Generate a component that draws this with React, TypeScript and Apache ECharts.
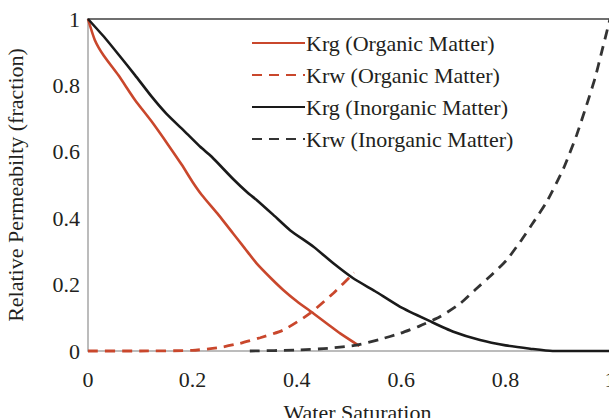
import React, { useEffect, useRef } from "react";
import * as echarts from "echarts";

const xTicks = [0, 0.2, 0.4, 0.6, 0.8, 1];
const yTicks = [0, 0.2, 0.4, 0.6, 0.8, 1];

const seriesNames = [
  "Krg (Organic Matter)",
  "Krw (Organic Matter)",
  "Krg (Inorganic Matter)",
  "Krw (Inorganic Matter)",
];

const krgOrganic: [number, number][] = [
  [0, 1], [0.013, 0.937], [0.03, 0.89], [0.058, 0.831], [0.09, 0.756],
  [0.122, 0.691], [0.154, 0.62], [0.18, 0.56], [0.2, 0.51], [0.218, 0.47],
  [0.25, 0.41], [0.278, 0.354], [0.3, 0.31], [0.323, 0.264], [0.35, 0.22],
  [0.374, 0.184], [0.4, 0.15], [0.432, 0.113], [0.46, 0.08], [0.483, 0.053],
  [0.52, 0.015],
];

const krwOrganic: [number, number][] = [
  [0, 0], [0.1, 0], [0.2, 0.002], [0.25, 0.01], [0.291, 0.023], [0.33, 0.04],
  [0.374, 0.063], [0.425, 0.113], [0.47, 0.174], [0.51, 0.236],
];

const krgInorganic: [number, number][] = [
  [0, 1], [0.033, 0.942], [0.06, 0.89], [0.09, 0.831], [0.122, 0.766],
  [0.15, 0.715], [0.186, 0.66], [0.215, 0.615], [0.237, 0.585], [0.278, 0.518],
  [0.307, 0.475], [0.323, 0.455], [0.355, 0.41], [0.387, 0.364], [0.432, 0.314],
  [0.47, 0.264], [0.508, 0.219], [0.55, 0.18], [0.598, 0.133], [0.655, 0.09],
  [0.7, 0.058], [0.751, 0.033], [0.8, 0.017], [0.847, 0.007], [0.89, 0], [1, 0],
];

const krwInorganic: [number, number][] = [
  [0.31, 0], [0.4, 0.003], [0.46, 0.008], [0.515, 0.018], [0.559, 0.035],
  [0.598, 0.053], [0.635, 0.075], [0.674, 0.103], [0.713, 0.143], [0.745, 0.189],
  [0.773, 0.229], [0.802, 0.274], [0.828, 0.329], [0.85, 0.38], [0.879, 0.45],
  [0.911, 0.55], [0.936, 0.65], [0.955, 0.74], [0.971, 0.82], [0.984, 0.9],
  [1, 1],
];

const RED = "#c9472c";
const BLACK = "#1a1a1a";
const DARK = "#333333";
const FONT = "Liberation Serif";
const TEXT = "#231f20";
const FS = 22;

const txt = (extra: object = {}) => ({
  fontFamily: FONT,
  fontSize: FS,
  color: TEXT,
  ...extra,
});

export default function App() {
  const ref = useRef<HTMLDivElement>(null);
  useEffect(() => {
    if (!ref.current) return;
    const chart = echarts.init(ref.current, undefined, { renderer: "svg" });
    const mk = (name: string, data: [number, number][], color: string, dashed: boolean) => ({
      name,
      type: "line",
      data,
      smooth: 0.2,
      symbol: "none",
      clip: false,
      lineStyle: { color, width: dashed ? 2.8 : 2.6, type: dashed ? [10, 7] : "solid" },
      itemStyle: { color },
    });
    chart.setOption({
      animation: false,
      grid: { left: 88, top: 19, width: 522, height: 332, outerBoundsMode: "none", containLabel: false },
      legend: {
        orient: "vertical",
        left: 246,
        top: 27,
        itemWidth: 53,
        itemHeight: 20,
        itemGap: 10,
        itemStyle: { opacity: 0 },
        data: seriesNames,
        textStyle: txt({ padding: [0, 0, 0, -4] }),
      },
      xAxis: [
        {
          type: "value",
          min: xTicks[0],
          max: xTicks[xTicks.length - 1],
          interval: 0.2,
          name: "Water Saturation",
          nameLocation: "middle",
          nameGap: 50,
          nameTextStyle: txt({ padding: [0, 0, 0, 17] }),
          axisLine: { show: true, lineStyle: { color: "#a6a6a6", width: 1.5 } },
          axisTick: { show: false },
          splitLine: { show: false },
          axisLabel: txt({ margin: 17 }),
        },
        {
          type: "value",
          position: "top",
          min: 0,
          max: 1,
          axisLine: { show: true, onZero: false, lineStyle: { color: "#404040", width: 1.5 } },
          axisTick: { show: false },
          axisLabel: { show: false },
          splitLine: { show: false },
        },
      ],
      yAxis: {
        type: "value",
        min: yTicks[0],
        max: yTicks[yTicks.length - 1],
        interval: 0.2,
        name: "Relative Permeabilty (fraction)",
        nameLocation: "middle",
        nameGap: 62,
        nameTextStyle: txt(),
        axisLine: { show: true, lineStyle: { color: "#a6a6a6", width: 1.5 } },
        axisTick: { show: false },
        splitLine: { show: false },
        axisLabel: txt({ margin: 8 }),
      },
      series: [
        mk(seriesNames[0], krgOrganic, RED, false),
        mk(seriesNames[1], krwOrganic, RED, true),
        mk(seriesNames[2], krgInorganic, BLACK, false),
        mk(seriesNames[3], krwInorganic, DARK, true),
      ],
    });
    return () => chart.dispose();
  }, []);
  return <div ref={ref} style={{ width: 609, height: 418, position: "absolute", left: 0, top: 0 }} />;
}
